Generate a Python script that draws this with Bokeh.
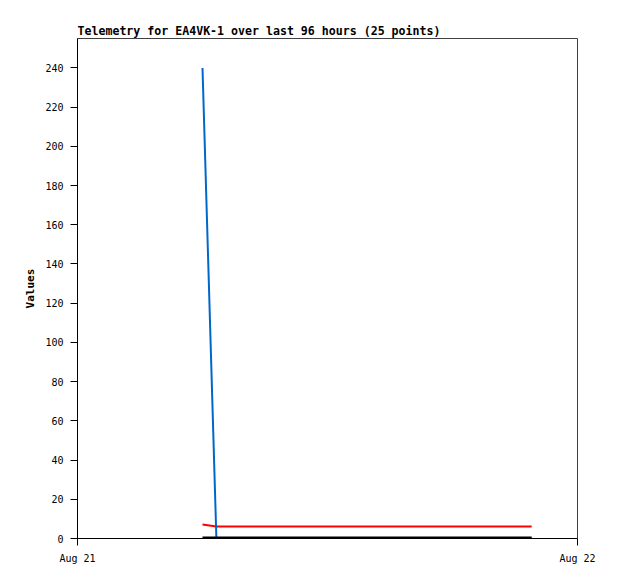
from datetime import datetime
from bokeh.plotting import figure
from bokeh.models import FixedTicker, DatetimeTickFormatter, Range1d
from bokeh.embed import file_html
from bokeh.resources import INLINE

day = "2023-08-21"
times = ["06:00", "06:40", "07:20", "08:00", "08:40", "09:20", "10:00", "10:40",
         "11:20", "12:00", "12:40", "13:20", "14:00", "14:40", "15:20", "16:00",
         "16:40", "17:20", "18:00", "18:40", "19:20", "20:00", "20:40", "21:10", "21:48"]
blue_vals = [240, 0, 0, 0, 0, 0, 0, 0, 0, 0, 0, 0, 0, 0, 0, 0, 0, 0, 0, 0, 0, 0, 0, 0, 0]
red_vals = [7.1, 6.1, 6.1, 6.1, 6.1, 6.1, 6.1, 6.1, 6.1, 6.1, 6.1, 6.1, 6.1,
            6.1, 6.1, 6.1, 6.1, 6.1, 6.1, 6.1, 6.1, 6.1, 6.1, 6.1, 6.1]
black_vals = [0] * 25
x_tick_dates = ["2023-08-21", "2023-08-22"]
y_ticks = [0, 20, 40, 60, 80, 100, 120, 140, 160, 180, 200, 220, 240]

xs = [datetime.strptime(day + " " + t, "%Y-%m-%d %H:%M") for t in times]
xt = [datetime.strptime(d, "%Y-%m-%d") for d in x_tick_dates]

p = figure(width=610, height=571, frame_width=500, frame_height=500,
           x_axis_type="datetime", output_backend="svg", toolbar_location=None,
           title="Telemetry for EA4VK-1 over last 96 hours (25 points)",
           x_range=Range1d(xt[0], xt[1]), y_range=Range1d(0, 255))
p.min_border_left = 77
p.min_border_right = 33
p.min_border_top = 38
p.min_border_bottom = 33

p.title.align = "left"
p.title.text_font = "DejaVu Sans Mono"
p.title.text_font_size = "11.6px"
p.title.text_font_style = "bold"
p.title.text_color = "black"
p.title.standoff = 2
p.title.offset = 0

p.outline_line_color = "#404040"
p.outline_line_width = 1
p.grid.visible = False
p.background_fill_color = "white"
p.border_fill_color = "white"

p.xaxis.ticker = FixedTicker(ticks=[t.timestamp() * 1000 for t in xt])
p.xaxis.formatter = DatetimeTickFormatter(days="%b %d", months="%b %d", hours="%b %d")
p.yaxis.ticker = FixedTicker(ticks=y_ticks)
p.yaxis.axis_label = "Values"
p.yaxis.axis_label_text_font = "DejaVu Sans Mono"
p.yaxis.axis_label_text_font_size = "11px"
p.yaxis.axis_label_text_font_style = "bold"
p.yaxis.axis_label_text_color = "black"
p.yaxis.axis_label_standoff = 5

for ax in (p.xaxis, p.yaxis):
    ax.axis_line_color = "black"
    ax.major_tick_line_color = "black"
    ax.major_tick_in = 0
    ax.major_tick_out = 7
    ax.minor_tick_line_color = None
    ax.major_label_text_font = "DejaVu Sans Mono"
    ax.major_label_text_font_size = "10px"
    ax.major_label_text_color = "black"
    ax.major_label_standoff = 7

p.line(xs, red_vals, line_color="#ff0000", line_width=2)
p.line(xs, blue_vals, line_color="#0066cc", line_width=2)
p.line(xs, black_vals, line_color="black", line_width=4)

open("out.html", "w").write(file_html(p, INLINE))
